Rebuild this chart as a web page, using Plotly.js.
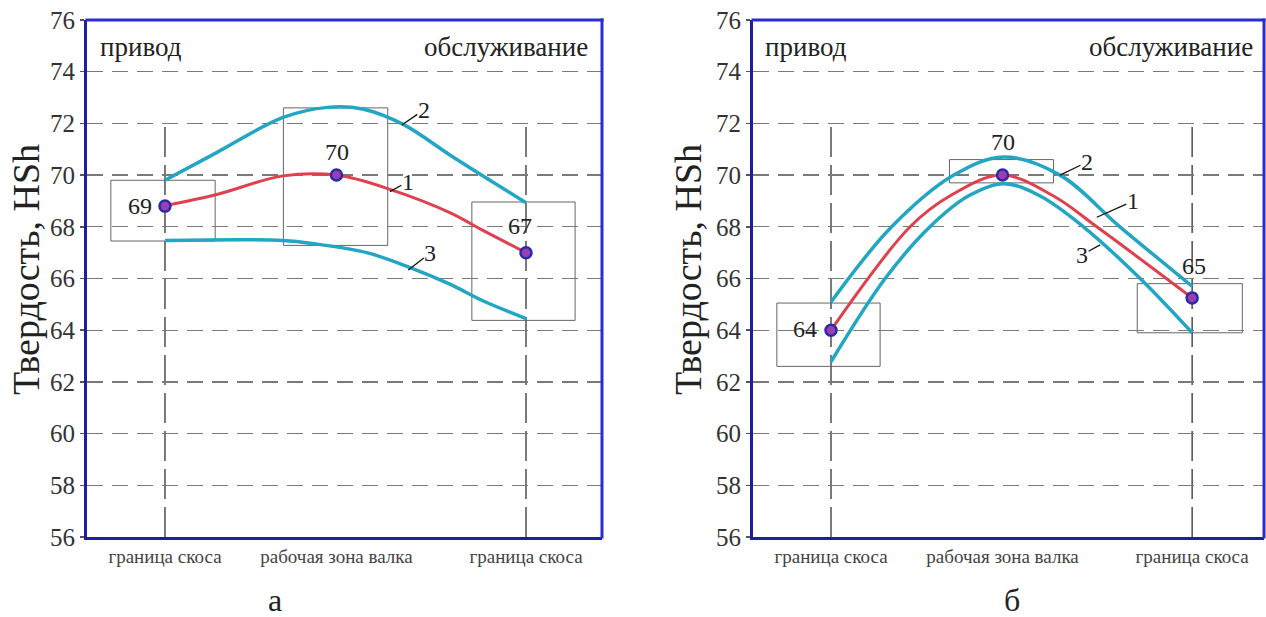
<!DOCTYPE html>
<html><head><meta charset="utf-8">
<script src="https://cdn.plot.ly/plotly-3.0.1.min.js"></script>
<style>html,body{margin:0;padding:0;background:#fff}#chart{width:1266px;height:617px}</style>
</head><body><div id="chart"></div>
<script>
// ---------- data ----------
const categories = ['граница скоса', 'рабочая зона валка', 'граница скоса'];
const catPos = [0, 0.475, 1];
const yTickVals = [56, 58, 60, 62, 64, 66, 68, 70, 72, 74, 76];
const yTitle = 'Твердость, HSh';
const leftLabel = 'привод';
const rightLabel = 'обслуживание';
const panelNames = ['а', 'б'];
const curveNames = ['1', '2', '3'];

// panel а
const aMeanY = [68.8, 70.0, 67.0];
const aMeanText = ['69', '70', '67'];
const a1x = [0, 0.143, 0.327, 0.475, 0.623, 0.789, 0.882, 1];
const a1y = [68.82, 69.25, 69.97, 70.0, 69.45, 68.55, 67.85, 67.0];
const a2x = [0, 0.143, 0.327, 0.45, 0.55, 0.66, 0.789, 0.9, 1];
const a2y = [69.8, 70.87, 72.23, 72.62, 72.55, 71.96, 70.78, 69.8, 68.93];
const a3x = [0, 0.327, 0.42, 0.559, 0.679, 0.789, 0.882, 1];
const a3y = [67.47, 67.47, 67.33, 67.0, 66.42, 65.78, 65.13, 64.45];
const aBoxX0 = [-0.150, 0.328, 0.850];
const aBoxX1 = [0.139, 0.617, 1.136];
const aBoxY0 = [67.45, 67.28, 64.38];
const aBoxY1 = [69.8, 72.6, 68.96];

// panel б
const bMeanY = [64.0, 70.0, 65.25];
const bMeanText = ['64', '70', '65'];
const b1x = [0, 0.219, 0.33, 0.473, 0.615, 0.736, 1];
const b1y = [64.0, 68.0, 69.2, 70.0, 69.2, 68.0, 65.25];
const b2x = [0, 0.168, 0.34, 0.478, 0.634, 0.8, 1];
const b2y = [65.09, 68.0, 70.0, 70.7, 70.0, 68.0, 65.7];
const b3x = [0, 0.15, 0.274, 0.38, 0.478, 0.579, 0.699, 0.856, 1];
const b3y = [62.78, 66.0, 68.0, 69.19, 69.67, 69.19, 68.0, 66.0, 63.9];
const bBoxX0 = [-0.150, 0.328, 0.848];
const bBoxX1 = [0.136, 0.616, 1.139];
const bBoxY0 = [62.6, 69.7, 63.9];
const bBoxY1 = [65.05, 70.6, 65.8];

// ---------- styling ----------
const W = 1266, H = 617;
const serif = 'Liberation Serif, DejaVu Serif, Times New Roman, Times, serif';
const RED = '#e0404e', CYAN = '#22a6c4';
const FRAME_DARK = '#1f1f9c', FRAME_LIGHT = '#2a2ad8';
const px = v => v / W, py = v => 1 - v / H;

function curves(xa, ya, x1, y1, x2, y2, x3, y3, my) {
  const sp = {shape: 'spline', smoothing: 1};
  return [
    {x: x2, y: y2, xaxis: xa, yaxis: ya, mode: 'lines', line: {color: CYAN, width: 3.5, ...sp}, hoverinfo: 'skip'},
    {x: x3, y: y3, xaxis: xa, yaxis: ya, mode: 'lines', line: {color: CYAN, width: 3.5, ...sp}, hoverinfo: 'skip'},
    {x: x1, y: y1, xaxis: xa, yaxis: ya, mode: 'lines', line: {color: RED, width: 3, ...sp}, hoverinfo: 'skip'},
    {x: catPos, y: my, xaxis: xa, yaxis: ya, mode: 'markers',
     marker: {symbol: 'circle', size: 11, color: '#9b3fb0', line: {color: '#2b2aa8', width: 2.5}}, hoverinfo: 'skip'}
  ];
}

const data = [
  ...curves('x', 'y', a1x, a1y, a2x, a2y, a3x, a3y, aMeanY),
  ...curves('x2', 'y2', b1x, b1y, b2x, b2y, b3x, b3y, bMeanY)
];

function xAxis(domain, range, anchor) {
  return {domain, range, anchor, tickvals: catPos, ticktext: categories, ticks: '',
    showgrid: false, zeroline: false, showline: true, mirror: false, linecolor: FRAME_DARK, linewidth: 3,
    tickfont: {family: serif, size: 19, color: '#444'}, fixedrange: true};
}
function yAxis(domain, anchor) {
  return {domain, range: [56, 76], anchor, tickvals: yTickVals, ticks: 'outside', ticklen: 4,
    tickcolor: '#555', tickwidth: 1.5, showgrid: true, gridcolor: '#7a7a7a', gridwidth: 1.3,
    griddash: '16px,9px', zeroline: false, showline: true, mirror: false, linecolor: FRAME_DARK,
    linewidth: 3, tickfont: {family: serif, size: 25, color: '#333'}, fixedrange: true};
}

const yDom = [1 - 537 / H, 1 - 20 / H];
const shapes = [];
function addPanelShapes(xr, yr, bx0, bx1, by0, by1) {
  [0, 2].forEach(i => shapes.push({type: 'line', xref: xr, yref: yr, x0: catPos[i], x1: catPos[i],
    y0: 56, y1: 72, line: {color: '#333', width: 1.3, dash: '30px,8px'}, layer: 'below'}));
  for (let i = 0; i < bx0.length; i++) {
    shapes.push({type: 'rect', xref: xr, yref: yr, x0: bx0[i], x1: bx1[i], y0: by0[i], y1: by1[i],
      line: {color: '#666', width: 1}, fillcolor: 'rgba(0,0,0,0)', layer: 'below'});
  }
  // top and right frame (brighter blue)
  shapes.push({type: 'line', xref: xr + ' domain', yref: yr + ' domain', x0: -0.003, x1: 1.003, y0: 1, y1: 1,
    line: {color: FRAME_LIGHT, width: 3}});
  shapes.push({type: 'line', xref: xr + ' domain', yref: yr + ' domain', x0: 1, x1: 1, y0: -0.003, y1: 1.003,
    line: {color: FRAME_LIGHT, width: 3}});
}
addPanelShapes('x', 'y', aBoxX0, aBoxX1, aBoxY0, aBoxY1);
addPanelShapes('x2', 'y2', bBoxX0, bBoxX1, bBoxY0, bBoxY1);

const tf = (s) => ({family: serif, size: s, color: '#222'});
const ann = [];
function valueLabel(xr, yr, x, y, text, xs, ys) {
  ann.push({xref: xr, yref: yr, x, y, text, showarrow: false, xshift: xs, yshift: ys, font: tf(24)});
}
function leader(xr, yr, x, y, text, ax, ay) {
  ann.push({xref: xr, yref: yr, x, y, text, showarrow: true, arrowhead: 0, arrowwidth: 1.3,
    arrowcolor: '#111', ax, ay, standoff: 0, borderpad: 0, font: tf(24)});
}
// panel а labels
valueLabel('x', 'y', catPos[0], aMeanY[0], aMeanText[0], -25, 0);
valueLabel('x', 'y', catPos[1], aMeanY[1], aMeanText[1], 1, 23);
valueLabel('x', 'y', catPos[2], aMeanY[2], aMeanText[2], -6, 27);
leader('x', 'y', 0.623, 69.36, curveNames[0], 18, -10);
leader('x', 'y', 0.656, 71.94, curveNames[1], 22, -15);
leader('x', 'y', 0.674, 66.33, curveNames[2], 22, -17);
// panel б labels
valueLabel('x2', 'y2', catPos[0], bMeanY[0], bMeanText[0], -26, 1);
valueLabel('x2', 'y2', catPos[1], bMeanY[1], bMeanText[1], 0, 33);
valueLabel('x2', 'y2', catPos[2], bMeanY[2], bMeanText[2], 2, 32);
leader('x2', 'y2', 0.736, 68.37, curveNames[0], 36, -16);
leader('x2', 'y2', 0.634, 70.0, curveNames[1], 27, -13);
leader('x2', 'y2', 0.745, 67.3, curveNames[2], -18, 10);

// panel texts
[[98, 590], [763, 1255]].forEach(([l, r]) => {
  ann.push({xref: 'paper', yref: 'paper', x: px(l), y: py(47), xanchor: 'left', yanchor: 'middle',
    text: leftLabel, showarrow: false, font: tf(27)});
  ann.push({xref: 'paper', yref: 'paper', x: px(r), y: py(47), xanchor: 'right', yanchor: 'middle',
    text: rightLabel, showarrow: false, font: tf(27)});
});
[26, 688].forEach(x => ann.push({xref: 'paper', yref: 'paper', x: px(x), y: py(270), xanchor: 'center',
  yanchor: 'middle', textangle: -90, text: yTitle, showarrow: false, font: tf(38)}));
ann.push({xref: 'paper', yref: 'paper', x: px(275), y: py(600), xanchor: 'center', yanchor: 'middle',
  text: panelNames[0], showarrow: false, font: tf(32)});
ann.push({xref: 'paper', yref: 'paper', x: px(1012), y: py(600), xanchor: 'center', yanchor: 'middle',
  text: panelNames[1], showarrow: false, font: tf(32)});

const layout = {
  width: W, height: H, margin: {l: 0, r: 0, t: 0, b: 0},
  paper_bgcolor: '#fff', plot_bgcolor: '#fff', showlegend: false,
  font: {family: serif},
  xaxis: xAxis([px(87), px(602)], [-0.216, 1.2105], 'y'),
  yaxis: yAxis(yDom, 'x'),
  xaxis2: xAxis([px(753), px(1264)], [-0.216, 1.199], 'y2'),
  yaxis2: yAxis(yDom, 'x2'),
  shapes, annotations: ann
};
Plotly.newPlot('chart', data, layout, {displayModeBar: false, staticPlot: true});
</script></body></html>
